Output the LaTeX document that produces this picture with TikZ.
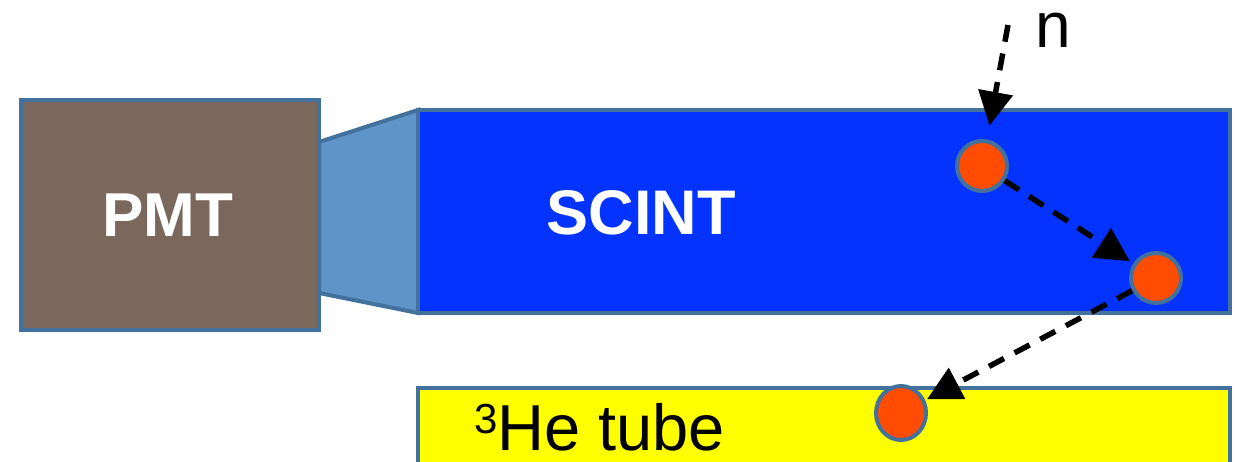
\documentclass[tikz,border=0pt]{standalone}
\usepackage{fontspec}
\setmainfont{Liberation Sans}
\usetikzlibrary{arrows.meta,shapes.geometric}
\definecolor{edgeblue}{HTML}{41719C}
\definecolor{pmtbrown}{HTML}{7B685C}
\definecolor{scintblue}{HTML}{0433FF}
\definecolor{guideblue}{HTML}{5E95C8}
\definecolor{dotred}{HTML}{FF4C00}
\definecolor{tubeyellow}{HTML}{FFFF00}
\tikzset{
  blockbox/.style={draw=edgeblue, line width=4pt, inner sep=0pt},
  dot/.style={circle, draw=edgeblue, fill=dotred, line width=4pt, minimum size=50pt, inner sep=0pt},
  path arrow/.style={line width=5.5pt, dash pattern=on 17pt off 12pt, -{Triangle[length=34pt,width=34pt]}},
}
\begin{document}
\begin{tikzpicture}[x=1pt,y=-1pt]
\useasboundingbox (0,0) rectangle (1244,462);
\clip (0,0) rectangle (1244,462);
% light guide
\path[fill=guideblue, draw=edgeblue, line width=4pt, line join=miter]
  (319,142) -- (418,110) -- (418,313) -- (319,293) -- cycle;
% PMT
\node[blockbox, fill=pmtbrown, minimum width=298pt, minimum height=230pt] (pmt) at (170,215) {};
\node[text=white, font=\bfseries\fontsize{62}{62}\selectfont] (pmtlabel) at (168,215) {PMT};
% scintillator
\node[blockbox, fill=scintblue, minimum width=812pt, minimum height=203pt] (scint) at (824,211.5) {};
\node[text=white, font=\bfseries\fontsize{63}{63}\selectfont] (scintlabel) at (641,213) {SCINT};
% He tube
\node[blockbox, fill=tubeyellow, minimum width=812pt, minimum height=120pt] (tube) at (824,448) {};
\node[text=black, font=\fontsize{65}{65}\selectfont, anchor=base west, inner sep=0pt] (tubelabel) at (474,450) {\raisebox{17pt}{\fontsize{42}{42}\selectfont 3}He tube};
% interaction points
\node[dot] (c1) at (982,166) {};
\node[dot] (c2) at (1156,278) {};
\node[dot, ellipse, minimum width=50pt, minimum height=54pt] (c3) at (901,413) {};
% neutron label
\node[font=\fontsize{64}{64}\selectfont, anchor=base, inner sep=0pt, text height=34pt, text depth=0pt] (nlabel) at (1053,48) {n};
\coordinate (nstart) at (1008,25);
% neutron path
\draw[path arrow, shorten >=14pt] (nstart) -- (c1);
\draw[path arrow, shorten >=4pt] (c1) -- (c2);
\draw[path arrow, shorten >=2pt] (c2) -- (c3);
\end{tikzpicture}
\end{document}
